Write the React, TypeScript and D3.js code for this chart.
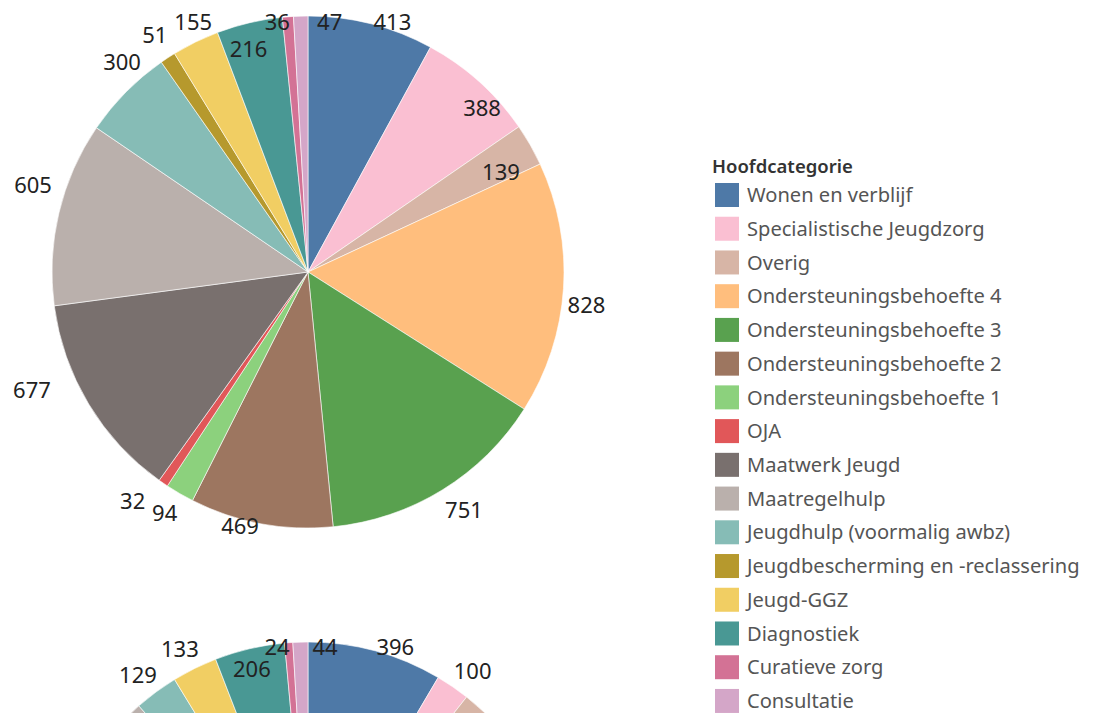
import React from "react";
import * as d3 from "d3";

const categories = [
  "Wonen en verblijf",
  "Specialistische Jeugdzorg",
  "Overig",
  "Ondersteuningsbehoefte 4",
  "Ondersteuningsbehoefte 3",
  "Ondersteuningsbehoefte 2",
  "Ondersteuningsbehoefte 1",
  "OJA",
  "Maatwerk Jeugd",
  "Maatregelhulp",
  "Jeugdhulp (voormalig awbz)",
  "Jeugdbescherming en -reclassering",
  "Jeugd-GGZ",
  "Diagnostiek",
  "Curatieve zorg",
  "Consultatie",
];

const colors = [
  "#4e79a7", "#fabfd2", "#d7b5a6", "#ffbe7d", "#59a14f", "#9d7660", "#8cd17d", "#e15759",
  "#79706e", "#bab0ac", "#86bcb6", "#b6992d", "#f1ce63", "#499894", "#d37295", "#d4a6c8",
];

const valuesPie1 = [413, 388, 139, 828, 751, 469, 94, 32, 677, 605, 300, 51, 155, 216, 36, 47];
const valuesPie2 = [396, 100, 140, 835, 760, 475, 95, 32, 685, 611, 129, 0, 133, 206, 24, 44];

// label nudges (angle in degrees, radial offset in px from rim) — layout only
const labelAnglePie1 = [4.4, 4.7, 2.3, 3.0, -1.6, 4.4, 0.6, 3.0, 7.9, 4.2, 3.8, 0.3, 1.4, -1.75, -2.5, 6.6];
const labelRadPie1 = [7.4, -16.9, -38.6, 24.4, 28.6, 6.9, 24.9, 32.5, 44.2, 32.4, 24.5, 26.1, 19.2, -25.7, -4.6, -5.6];
const labelAnglePie2 = [3.9, 1.5, 2.3, 3.0, -1.6, 4.4, 0.6, 3.0, 7.9, 4.2, -1.0, 0, -1.0, -0.6, -2.7, 5.6];
const labelRadPie2 = [9.8, 24.7, -38.6, 24.4, 28.6, 6.9, 24.9, 32.5, 44.2, 32.4, 24, 0, 23.5, -20.7, -3.1, -4.4];

const legendTitle = "Hoofdcategorie";

const W = 1096;
const H = 713;
const R = 256;
const CX = 308;
const PIE_CY = [272, 898];
const FONT = "'Noto Sans', 'DejaVu Sans', sans-serif";
const LABEL_SIZE = 22;

type PieProps = { values: number[]; cy: number; dA: number[]; dR: number[] };

function Pie({ values, cy, dA, dR }: PieProps) {
  const data = values.map((v, i) => ({ i, v }));
  const pie = d3
    .pie<{ i: number; v: number }>()
    .value((d) => d.v)
    .sort(null)
    .startAngle(0)
    .endAngle(2 * Math.PI);
  const arcs = pie(data).filter((a) => a.data.v > 0);
  const arc = d3.arc<d3.PieArcDatum<{ i: number; v: number }>>().innerRadius(0).outerRadius(R);
  const labels = arcs
    .map((a) => {
      const i = a.data.i;
      const mid = (a.startAngle + a.endAngle) / 2 + (dA[i] * Math.PI) / 180;
      const dist = R + dR[i];
      return { i, v: a.data.v, x: dist * Math.sin(mid), y: -dist * Math.cos(mid) };
    })
    // labels that fall below the visible view area are not drawn
    .filter((l) => cy + l.y + LABEL_SIZE * 0.4 < H);
  return (
    <g transform={`translate(${CX},${cy})`}>
      {arcs.map((a) => (
        <path key={a.data.i} d={arc(a) || ""} fill={colors[a.data.i]} stroke="#ffffff" strokeWidth={0.6} />
      ))}
      {labels.map((l) => (
        <text
          key={"l" + l.i}
          x={l.x}
          y={l.y}
          dy="0.357em"
          textAnchor="middle"
          fontFamily={FONT}
          fontSize={LABEL_SIZE}
          fill="#222"
        >
          {l.v}
        </text>
      ))}
    </g>
  );
}

export default function App() {
  const legendX = 715;
  const legendY0 = 183;
  const pitch = 33.73;
  return (
    <svg
      width={W}
      height={H}
      viewBox={`0 0 ${W} ${H}`}
      style={{ position: "absolute", left: 0, top: 0, background: "#fff" }}
    >
      <rect x={0} y={0} width={W} height={H} fill="#fff" />
      <Pie values={valuesPie1} cy={PIE_CY[0]} dA={labelAnglePie1} dR={labelRadPie1} />
      <Pie values={valuesPie2} cy={PIE_CY[1]} dA={labelAnglePie2} dR={labelRadPie2} />
      <g>
        <text x={712} y={173} fontFamily={FONT} fontSize={18.5} fontWeight={600} fill="#333">
          {legendTitle}
        </text>
        {categories.map((c, i) => (
          <g key={c} transform={`translate(${legendX},${legendY0 + i * pitch})`}>
            <rect x={0} y={0} width={24} height={24} fill={colors[i]} />
            <text x={32} y={12} dy="0.357em" fontFamily={FONT} fontSize={20.1} fill="#555">
              {c}
            </text>
          </g>
        ))}
      </g>
    </svg>
  );
}
